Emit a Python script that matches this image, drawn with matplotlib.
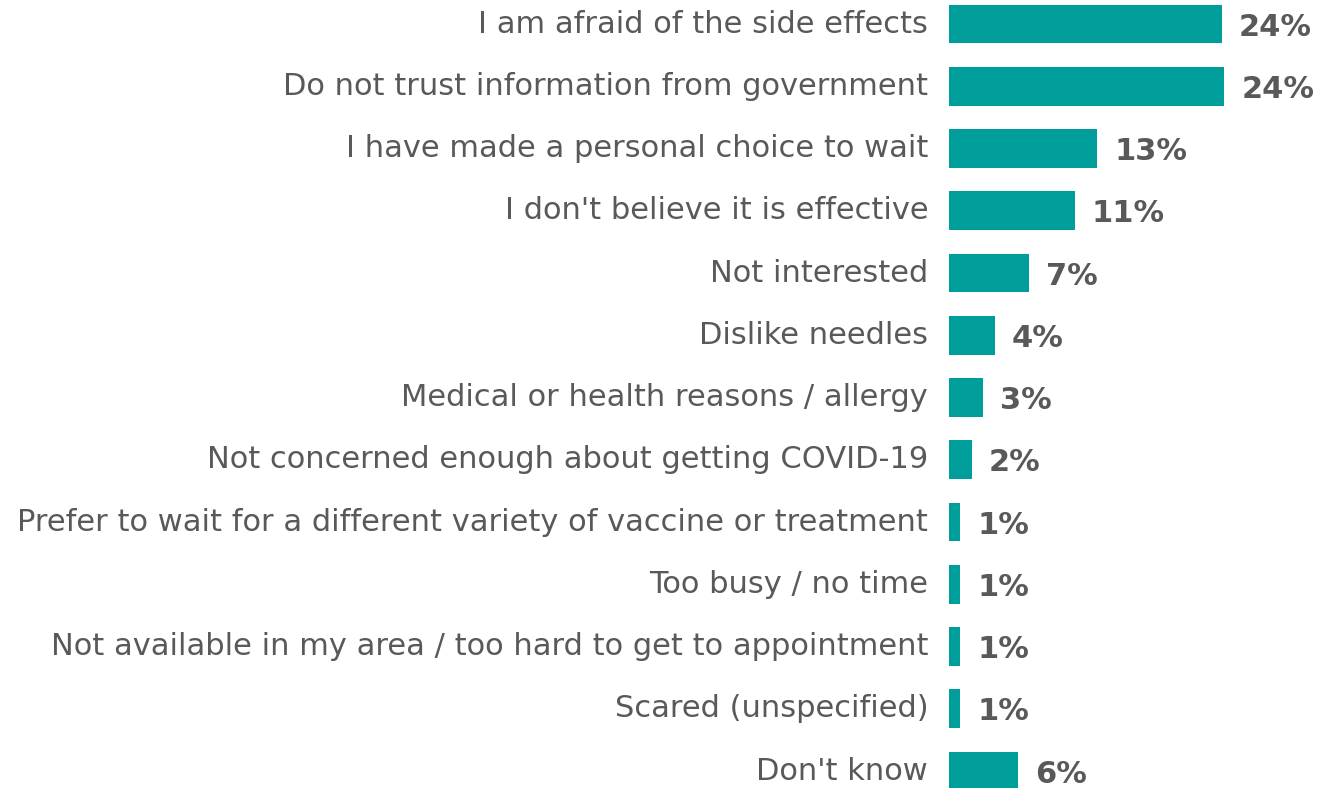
import matplotlib
matplotlib.use("Agg")
import matplotlib.pyplot as plt

# reasons, top to bottom
categories = [
    "I am afraid of the side effects",
    "Do not trust information from government",
    "I have made a personal choice to wait",
    "I don't believe it is effective",
    "Not interested",
    "Dislike needles",
    "Medical or health reasons / allergy",
    "Not concerned enough about getting COVID-19",
    "Prefer to wait for a different variety of vaccine or treatment",
    "Too busy / no time",
    "Not available in my area / too hard to get to appointment",
    "Scared (unspecified)",
    "Don't know",
]
values = [23.9, 24.1, 13, 11, 7, 4, 3, 2, 1, 1, 1, 1, 6]
value_labels = ["24%", "24%", "13%", "11%", "7%", "4%", "3%", "2%", "1%", "1%", "1%", "1%", "6%"]

teal = "#009E9A"
grey = "#595959"

plt.rcParams['font.family'] = ['DejaVu Sans']

fig = plt.figure(figsize=(13.19, 7.88), dpi=100)
ax = fig.add_axes([949 / 1319, 0, 370 / 1319, 1])

pos = list(range(len(categories)))
ax.barh(pos, values, height=0.62, color=teal)

ax.set_xlim(0, 32.4)
ax.set_ylim(12.273, -0.386)

for i, v in enumerate(values):
    ax.text(v + 1.5, i + 0.05, value_labels[i], va="center", ha="left",
            fontsize=22, fontweight="bold", color=grey)

ax.set_yticks(pos)
ax.set_yticklabels(categories, fontsize=22, color=grey, va="center")
ax.tick_params(axis="y", length=0, pad=15)
ax.set_xticks([])
for s in ax.spines.values():
    s.set_visible(False)

fig.savefig("out.png", dpi=100)
